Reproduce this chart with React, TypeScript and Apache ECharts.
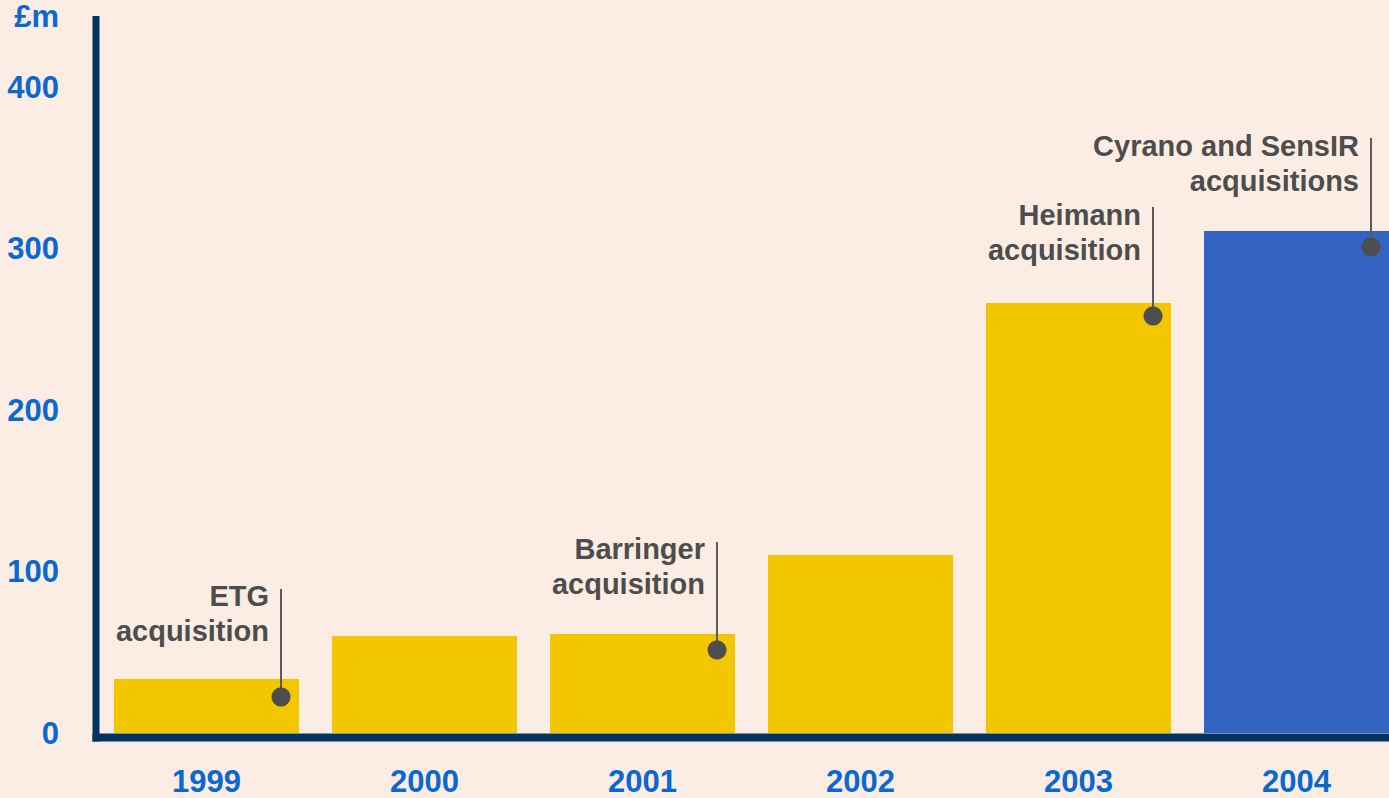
import React, { useEffect, useRef } from "react";
import * as echarts from "echarts";

const years = ["1999", "2000", "2001", "2002", "2003", "2004"];
const sales = [33.4, 60.1, 61.3, 110.2, 266.3, 310.8];
const barColors = ["#F2C700", "#F2C700", "#F2C700", "#F2C700", "#F2C700", "#3363C2"];
const yTicks = [0, 100, 200, 300, 400];
const yMax = 444;
const unitLabel = "£m";

// annotations: category index, dot value, value where the leader line ends
const annYearIndex = [0, 2, 4, 5];
const annDotValue = [22.3, 51.4, 258.2, 300.9];
const annTopValue = [89.2, 118.3, 325.7, 368.4];
const annText = [
  "ETG\nacquisition",
  "Barringer\nacquisition",
  "Heimann\nacquisition",
  "Cyrano and SensIR\nacquisitions",
];

const BG = "#FBEDE3";
const NAVY = "#023462";
const BLUE_TXT = "#0A68CF";
const GREY = "#4D4D4D";
const FONT = "Liberation Sans, Arial, sans-serif";

export default function App() {
  const ref = useRef<HTMLDivElement>(null);
  useEffect(() => {
    if (!ref.current) return;
    const chart = echarts.init(ref.current, null, { renderer: "svg" });
    const option: any = {
      animation: false,
      backgroundColor: BG,
      grid: {
        left: 97.5,
        width: 1308,
        top: 16,
        bottom: 65,
        containLabel: false,
        outerBoundsMode: "none",
      },
      xAxis: {
        type: "category",
        data: years,
        axisLine: { show: false },
        axisTick: { show: false },
        axisLabel: {
          color: BLUE_TXT,
          fontSize: 31,
          fontWeight: "bold",
          fontFamily: FONT,
          margin: 33,
        },
      },
      yAxis: {
        type: "value",
        min: 0,
        max: yMax,
        interval: 100,
        splitLine: { show: false },
        axisTick: { show: false },
        axisLine: { show: false },
        axisLabel: {
          color: BLUE_TXT,
          fontSize: 31,
          fontWeight: "bold",
          fontFamily: FONT,
          margin: 38.5,
          showMaxLabel: false,
          formatter: (v: number) => (yTicks.indexOf(v) >= 0 ? String(v) : ""),
        },
      },
      graphic: [
        {
          type: "line",
          z: 10,
          shape: { x1: 96, y1: 16, x2: 96, y2: 741.5 },
          style: { stroke: NAVY, lineWidth: 7 },
        },
        {
          type: "line",
          z: 10,
          shape: { x1: 92.5, y1: 737.5, x2: 1389, y2: 737.5 },
          style: { stroke: NAVY, lineWidth: 8 },
        },
        {
          type: "text",
          x: 59,
          y: 16,
          style: {
            text: unitLabel,
            fill: BLUE_TXT,
            font: `bold 31px ${FONT}`,
            align: "right",
            verticalAlign: "middle",
          },
        },
      ],
      series: [
        {
          type: "bar",
          barWidth: 185,
          data: sales.map((v, i) => ({ value: v, itemStyle: { color: barColors[i] } })),
          z: 2,
        },
        {
          type: "custom",
          z: 5,
          data: annYearIndex.map((idx, i) => [idx, annDotValue[i], annTopValue[i]]),
          renderItem: (params: any, api: any) => {
            const idx = api.value(0);
            const p = api.coord([idx, api.value(1)]);
            const t = api.coord([idx, api.value(2)]);
            const x = p[0] + 74.5;
            return {
              type: "group",
              children: [
                {
                  type: "line",
                  shape: { x1: x, y1: t[1], x2: x, y2: p[1] },
                  style: { stroke: "#5A5A5A", lineWidth: 2 },
                },
                {
                  type: "circle",
                  shape: { cx: x, cy: p[1], r: 9.5 },
                  style: { fill: GREY },
                },
                {
                  type: "text",
                  style: {
                    text: annText[params.dataIndex],
                    x: x - 12,
                    y: t[1] - 10,
                    align: "right",
                    verticalAlign: "top",
                    font: `bold 29px ${FONT}`,
                    lineHeight: 35,
                    fill: GREY,
                  },
                },
              ],
            };
          },
        },
      ],
    };
    chart.setOption(option);
    return () => chart.dispose();
  }, []);
  return (
    <div
      ref={ref}
      style={{ position: "fixed", left: 0, top: 0, width: 1389, height: 798, background: BG }}
    />
  );
}
